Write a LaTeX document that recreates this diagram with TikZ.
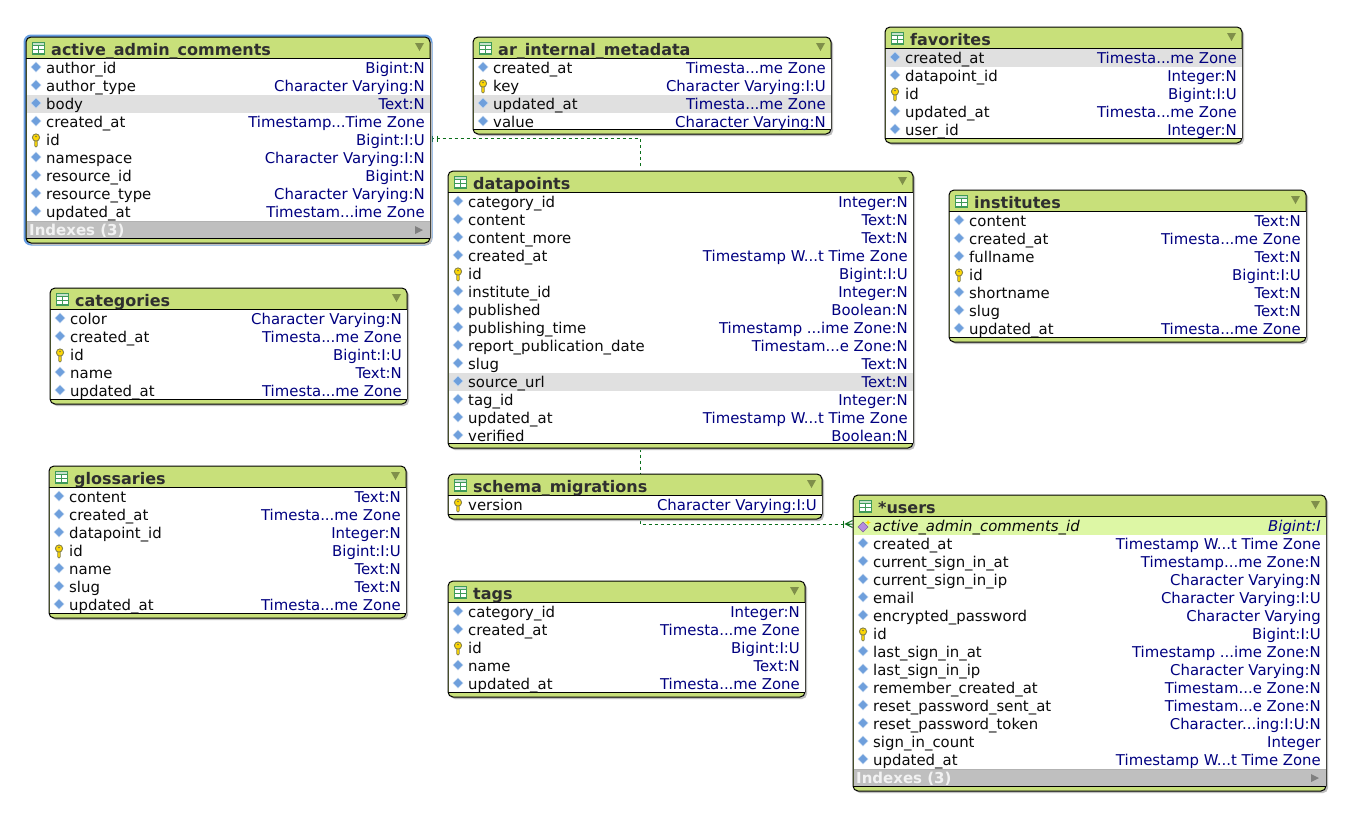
\documentclass[tikz,border=0pt]{standalone}
\usepackage{fontspec}
\setmainfont{DejaVu Sans}
\usetikzlibrary{backgrounds}
\definecolor{hdr}{HTML}{C8E07A}
\definecolor{navytxt}{HTML}{000080}
\definecolor{conn}{HTML}{0A6E1A}
\definecolor{ink}{HTML}{0A0A0A}
\definecolor{gridg}{HTML}{3F9A58}
\definecolor{tri}{HTML}{7F8F4A}
\definecolor{fkrow}{HTML}{DDF7A5}
\definecolor{dia}{HTML}{6E9FDC}
\definecolor{purp}{HTML}{B58CE0}
\tikzset{
  tablebox/.style={draw=black,fill=hdr,line width=1pt,rounded corners=5pt,inner sep=0pt},
  lname/.style={anchor=base west,inner sep=0pt,text=ink,font=\fontsize{14.9}{18}\selectfont},
  rtype/.style={anchor=base east,inner sep=0pt,text=navytxt,font=\fontsize{14.9}{18}\selectfont},
  ttl/.style={anchor=base west,inner sep=0pt,text=ink!85,font=\fontsize{16}{18}\selectfont\bfseries},
  idx/.style={anchor=base west,inner sep=0pt,text=white!90!gray,font=\fontsize{15}{18}\selectfont\bfseries},
  relline/.style={draw=conn,line width=1pt,dash pattern=on 3pt off 3pt},
  relend/.style={draw=conn,line width=1pt},
}
\newcount\rowc
\def\icod{\draw[draw=dia!45!white,fill=dia] (-5,-1)--(0,-6)--(5,-1)--(0,4)--cycle;}
\def\icok{%
  \fill[yellow!75!orange,draw=black!55!yellow,line width=.7pt] (-1.2,0.5) -- (-1.2,6) -- (0,7) -- (1.2,6) -- (1.2,0.5) -- cycle;
  \fill[yellow!75!orange,draw=black!55!yellow,line width=.9pt] (0,-2.5) circle (3.6);
  \fill[black!60!yellow] (0,-3.5) circle (.9);}
\def\icop{%
  \draw[draw=purp!70!black,fill=purp] (-5,1)--(0,-4)--(5,1)--(0,6)--cycle;
  \fill[yellow!80!orange] (4,-4)--(5,-6)--(6,-4)--(8,-3.5)--(6,-3)--(5,-1)--(4,-3)--(2,-3.5)--cycle;}
% table: id, x0, y0, x1, y1, header bottom, title
\newcommand\Tbl[7]{%
  \fill[black!25,rounded corners=5pt] (#2+2,#3+2) rectangle (#4+2,#5+2);
  \pgfmathsetmacro\tbw{#4-(#2)}\pgfmathsetmacro\tbh{#5-(#3)}
  \node[tablebox,minimum width=\tbw pt,minimum height=\tbh pt] (#1) at ({(#2+#4)/2},{(#3+#5)/2}) {};
  \fill[white] (#2+.5,#6) rectangle (#4-.5,#5-5);
  \draw[black,line width=1pt] (#2,#6) -- (#4,#6) (#2,#5-5) -- (#4,#5-5);
  % table glyph
  \fill[gridg] (#2+6,#3+5) rectangle (#2+19,#3+18);
  \foreach \cx in {7,13}{\foreach \cy in {9,13}{\fill[white!15!white] (#2+\cx,#3+\cy) rectangle (#2+\cx+5,#3+\cy+3);}}
  \fill[white!70!gridg] (#2+7,#3+6) rectangle (#2+18,#3+8);
  \node[ttl] (#1-title) at (#2+25,#3+18) {#7};
  \fill[tri] (#4-15,#3+6) -- (#4-6,#3+6) -- (#4-10.5,#3+14) -- cycle;
  \def\tid{#1}\def\xa{#2}\def\xb{#4}\def\rowy{#6}\rowc=0
}
% row: icon, name, type
\newcommand\Rw[3]{%
  \global\advance\rowc by 1
  \pgfmathsetmacro\yc{\rowy+9.5}
  \begin{scope}[shift={(\xa+10,\yc)}]\csname ico#1\endcsname\end{scope}
  \node[lname] (\tid-\the\rowc) at (\xa+20,\yc+5) {#2};
  \node[rtype] (\tid-\the\rowc r) at (\xb-5,\yc+5) {#3};
  \pgfmathsetmacro\rowy{\rowy+18}\xdef\rowy{\rowy}
}
\newcommand\Ix{%
  \fill[black!25] (\xa+.5,\rowy+.5) rectangle (\xb-.5,\rowy+17);
  \draw[black!30,line width=.6pt] (\xa+.5,\rowy+.5) -- (\xb-.5,\rowy+.5);
  \node[idx] (\tid-idx) at (\xa+3,\rowy+14.5) {Indexes (3)};
  \fill[black!50] (\xb-15,\rowy+5.5) -- (\xb-7,\rowy+9.5) -- (\xb-15,\rowy+13.5) -- cycle;
}
\newcommand\HB{\fill[black!12] (\xa+.5,\rowy+.5) rectangle (\xb-.5,\rowy+18.5);}
\begin{document}
\begin{tikzpicture}[x=1pt,y=-1pt]
\useasboundingbox (0,0) rectangle (1351,817);
\begin{scope}[on background layer]\fill[white] (0,0) rectangle (1351,817);\end{scope}

% active_admin_comments
\draw[blue!55!cyan!80!black,line width=3pt,rounded corners=6pt,opacity=.6] (25,36) rectangle (431,244);
\Tbl{ac}{26}{37}{430}{243}{58.5}{active\_admin\_comments}
\Rw{d}{author\_id}{Bigint:N}
\Rw{d}{author\_type}{Character Varying:N}
\HB\Rw{d}{body}{Text:N}
\Rw{d}{created\_at}{Timestamp...Time Zone}
\Rw{k}{id}{Bigint:I:U}
\Rw{d}{namespace}{Character Varying:I:N}
\Rw{d}{resource\_id}{Bigint:N}
\Rw{d}{resource\_type}{Character Varying:N}
\Rw{d}{updated\_at}{Timestam...ime Zone}
\Ix
\coordinate (acp) at ([yshift=6.5pt]ac-5r.base east);

\Tbl{ar}{473}{37}{831}{134}{58.5}{ar\_internal\_metadata}
\Rw{d}{created\_at}{Timesta...me Zone}
\Rw{k}{key}{Character Varying:I:U}
\HB\Rw{d}{updated\_at}{Timesta...me Zone}
\Rw{d}{value}{Character Varying:N}

\Tbl{fav}{885}{27}{1242}{143}{48.5}{favorites}
\HB\Rw{d}{created\_at}{Timesta...me Zone}
\Rw{d}{datapoint\_id}{Integer:N}
\Rw{k}{id}{Bigint:I:U}
\Rw{d}{updated\_at}{Timesta...me Zone}
\Rw{d}{user\_id}{Integer:N}

\Tbl{dp}{448}{171}{913}{448}{192.5}{datapoints}
\Rw{d}{category\_id}{Integer:N}
\Rw{d}{content}{Text:N}
\Rw{d}{content\_more}{Text:N}
\Rw{d}{created\_at}{Timestamp W...t Time Zone}
\Rw{k}{id}{Bigint:I:U}
\Rw{d}{institute\_id}{Integer:N}
\Rw{d}{published}{Boolean:N}
\Rw{d}{publishing\_time}{Timestamp ...ime Zone:N}
\Rw{d}{report\_publication\_date}{Timestam...e Zone:N}
\Rw{d}{slug}{Text:N}
\HB\Rw{d}{source\_url}{Text:N}
\Rw{d}{tag\_id}{Integer:N}
\Rw{d}{updated\_at}{Timestamp W...t Time Zone}
\Rw{d}{verified}{Boolean:N}

\Tbl{inst}{949}{190}{1306}{342}{211.5}{institutes}
\Rw{d}{content}{Text:N}
\Rw{d}{created\_at}{Timesta...me Zone}
\Rw{d}{fullname}{Text:N}
\Rw{k}{id}{Bigint:I:U}
\Rw{d}{shortname}{Text:N}
\Rw{d}{slug}{Text:N}
\Rw{d}{updated\_at}{Timesta...me Zone}

\Tbl{cat}{50}{288}{407}{404}{309.5}{categories}
\Rw{d}{color}{Character Varying:N}
\Rw{d}{created\_at}{Timesta...me Zone}
\Rw{k}{id}{Bigint:I:U}
\Rw{d}{name}{Text:N}
\Rw{d}{updated\_at}{Timesta...me Zone}

\Tbl{glo}{49}{466}{406}{618}{487.5}{glossaries}
\Rw{d}{content}{Text:N}
\Rw{d}{created\_at}{Timesta...me Zone}
\Rw{d}{datapoint\_id}{Integer:N}
\Rw{k}{id}{Bigint:I:U}
\Rw{d}{name}{Text:N}
\Rw{d}{slug}{Text:N}
\Rw{d}{updated\_at}{Timesta...me Zone}

\Tbl{sm}{448}{474}{822}{519}{495.5}{schema\_migrations}
\Rw{k}{version}{Character Varying:I:U}

\Tbl{tags}{448}{581}{805}{697}{602.5}{tags}
\Rw{d}{category\_id}{Integer:N}
\Rw{d}{created\_at}{Timesta...me Zone}
\Rw{k}{id}{Bigint:I:U}
\Rw{d}{name}{Text:N}
\Rw{d}{updated\_at}{Timesta...me Zone}

\Tbl{users}{853}{495}{1326}{791}{516.5}{*users}
\fill[fkrow] (\xa+.5,\rowy+.5) rectangle (\xb-.5,\rowy+18.5);
\Rw{p}{\itshape active\_admin\_comments\_id}{\itshape Bigint:I}
\Rw{d}{created\_at}{Timestamp W...t Time Zone}
\Rw{d}{current\_sign\_in\_at}{Timestamp...me Zone:N}
\Rw{d}{current\_sign\_in\_ip}{Character Varying:N}
\Rw{d}{email}{Character Varying:I:U}
\Rw{d}{encrypted\_password}{Character Varying}
\Rw{k}{id}{Bigint:I:U}
\Rw{d}{last\_sign\_in\_at}{Timestamp ...ime Zone:N}
\Rw{d}{last\_sign\_in\_ip}{Character Varying:N}
\Rw{d}{remember\_created\_at}{Timestam...e Zone:N}
\Rw{d}{reset\_password\_sent\_at}{Timestam...e Zone:N}
\Rw{d}{reset\_password\_token}{Character...ing:I:U:N}
\Rw{d}{sign\_in\_count}{Integer}
\Rw{d}{updated\_at}{Timestamp W...t Time Zone}
\Ix
\coordinate (usp) at ([yshift=7pt]users-1r.base east);

% connectors, behind the tables
\begin{scope}[on background layer]
\draw[relline] (ac.east |- acp) -| ([xshift=-40.5pt,yshift=4pt]dp.north);
\draw[relline] ([xshift=-40.5pt]dp.south) |- (users.west |- usp);
\draw[relend] ([xshift=2pt]ac.east |- acp) ++(0,-3) -- ++(0,6);
\draw[relend] ([xshift=7pt]ac.east |- acp) ++(0,-3) -- ++(0,6);
\draw[relend] ([xshift=-9pt]users.west |- usp) ++(0,-3.5) -- ++(0,7);
\draw[relend] ([xshift=-7pt]users.west |- usp) -- (users.west |- usp) ++(0,-3.5) -- ++(-7,3.5) -- ++(7,3.5);
\end{scope}
\end{tikzpicture}
\end{document}
